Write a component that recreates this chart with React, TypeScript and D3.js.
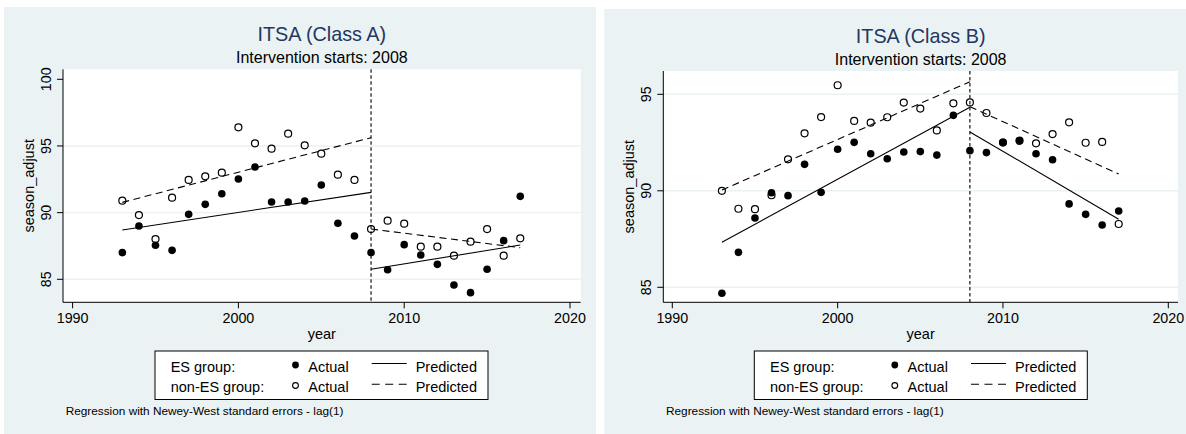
import React from "react";
import * as d3 from "d3";

// ---------- data ----------
const years = [1993, 1994, 1995, 1996, 1997, 1998, 1999, 2000, 2001, 2002, 2003, 2004, 2005, 2006, 2007, 2008, 2009, 2010, 2011, 2012, 2013, 2014, 2015, 2016, 2017];

const classAEsActual = [87.0, 89.0, 87.55, 87.17, 89.87, 90.62, 91.42, 92.52, 93.42, 90.8, 90.8, 90.87, 92.07, 89.2, 88.25, 87.0, 85.72, 87.6, 86.82, 86.12, 84.57, 84.0, 85.75, 87.9, 91.22];
const classANonEsActual = [90.9, 89.82, 88.02, 91.12, 92.45, 92.72, 93.0, 96.4, 95.2, 94.8, 95.92, 95.05, 94.42, 92.85, 92.45, 88.77, 89.4, 89.17, 87.45, 87.45, 86.77, 87.82, 88.77, 86.77, 88.07];

const classBEsActual = [84.69, 86.81, 88.59, 89.9, 89.75, 91.37, 89.92, 92.15, 92.51, 91.92, 91.66, 92.01, 92.03, 91.85, 93.91, 92.08, 91.98, 92.51, 92.58, 91.92, 91.61, 89.32, 88.78, 88.23, 88.95];
const classBNonEsActual = [90.0, 89.07, 89.05, 89.77, 91.63, 92.98, 93.82, 95.47, 93.62, 93.53, 93.81, 94.57, 94.26, 93.13, 94.53, 94.58, 94.03, 92.5, 92.6, 92.46, 92.94, 93.55, 92.49, 92.53, 88.28];

const preYears = [1993, 2008];
const postYears = [2008, 2017];
const classAEsPredPre = [88.7, 91.52];
const classAEsPredPost = [85.75, 87.57];
const classANonEsPredPre = [90.77, 95.62];
const classANonEsPredPost = [88.77, 87.37];
const classBEsPredPre = [87.33, 94.33];
const classBEsPredPost = [93.05, 88.53];
const classBNonEsPredPre = [90.04, 95.65];
const classBNonEsPredPost = [94.36, 90.87];

const xTicks = [1990, 2000, 2010, 2020];
const classAYTicks = [85, 90, 95, 100];
const classAGridTicks = [85, 90, 95];
const classBYTicks = [85, 90, 95];
const classBGridTicks = [85, 90, 95];
const interventionYear = 2008;

const FONT = "'Liberation Sans', Arial, Helvetica, sans-serif";
const BG = "#eaf2f3";
const TITLE_COLOR = "#23375f";

type PanelCfg = {
  title: string;
  bg: { x: number; y: number; w: number; h: number };
  plot: { l: number; t: number; r: number; b: number };
  xRange: [number, number];
  yDomain: [number, number];
  yRange: [number, number];
  yTicks: number[];
  gridTicks: number[];
  titleY: number;
  subY: number;
  legendX: number;
  noteX: number;
  es: number[];
  nonEs: number[];
  esPre: number[];
  esPost: number[];
  nonEsPre: number[];
  nonEsPost: number[];
};

function Panel({ c }: { c: PanelCfg }) {
  const x = d3.scaleLinear().domain([1990, 2020]).range(c.xRange);
  const y = d3.scaleLinear().domain(c.yDomain).range(c.yRange);
  const line = d3
    .line<[number, number]>()
    .x((d) => x(d[0]))
    .y((d) => y(d[1]));
  const cx = (c.plot.l + c.plot.r) / 2;
  const cy = (c.plot.t + c.plot.b) / 2;
  const pair = (ys: number[], vs: number[]) => ys.map((yr, i) => [yr, vs[i]] as [number, number]);
  const lg = { x: c.legendX, y: 351, w: 333, h: 48.5 };
  return (
    <g>
      <rect x={c.bg.x} y={c.bg.y} width={c.bg.w} height={c.bg.h} fill={BG} />
      <rect x={c.plot.l} y={c.plot.t} width={c.plot.r - c.plot.l} height={c.plot.b - c.plot.t} fill="#ffffff" />
      {c.gridTicks.map((t) => (
        <line key={"g" + t} x1={c.plot.l} x2={c.plot.r} y1={y(t)} y2={y(t)} stroke={BG} strokeWidth={1.4} />
      ))}
      {/* axes */}
      <line x1={c.plot.l} x2={c.plot.l} y1={c.plot.t} y2={c.plot.b} stroke="#000" strokeWidth={1} />
      <line x1={c.plot.l} x2={c.plot.r} y1={c.plot.b} y2={c.plot.b} stroke="#000" strokeWidth={1} />
      {c.yTicks.map((t) => (
        <g key={"y" + t}>
          <line x1={c.plot.l - 6} x2={c.plot.l} y1={y(t)} y2={y(t)} stroke="#000" strokeWidth={1} />
          <text
            transform={`translate(${c.plot.l - 12.5},${y(t)}) rotate(-90)`}
            textAnchor="middle"
            fontFamily={FONT}
            fontSize={14.3}
            fill="#000"
          >
            {t}
          </text>
        </g>
      ))}
      {xTicks.map((t) => (
        <g key={"x" + t}>
          <line x1={x(t)} x2={x(t)} y1={c.plot.b} y2={c.plot.b + 6} stroke="#000" strokeWidth={1} />
          <text x={x(t)} y={323} textAnchor="middle" fontFamily={FONT} fontSize={14.3} fill="#000">
            {t}
          </text>
        </g>
      ))}
      <text
        transform={`translate(${c.plot.l - 29.5},${cy}) rotate(-90)`}
        textAnchor="middle"
        fontFamily={FONT}
        fontSize={14.5}
        fill="#000"
      >
        season_adjust
      </text>
      <text x={cx} y={338.7} textAnchor="middle" fontFamily={FONT} fontSize={14.5} fill="#000">
        year
      </text>
      {/* titles */}
      <text x={cx} y={c.titleY} textAnchor="middle" fontFamily={FONT} fontSize={19.8} fill={TITLE_COLOR}>
        {c.title}
      </text>
      <text x={cx} y={c.subY} textAnchor="middle" fontFamily={FONT} fontSize={16} fill="#000">
        Intervention starts: {interventionYear}
      </text>
      {/* intervention line */}
      <line
        x1={x(interventionYear)}
        x2={x(interventionYear)}
        y1={c.plot.t}
        y2={c.plot.b}
        stroke="#000"
        strokeWidth={1.1}
        strokeDasharray="3.5,2.5"
      />
      {/* predicted lines */}
      <path d={line(pair(preYears, c.esPre)) || ""} stroke="#000" strokeWidth={1.1} fill="none" />
      <path d={line(pair(postYears, c.esPost)) || ""} stroke="#000" strokeWidth={1.1} fill="none" />
      <path d={line(pair(preYears, c.nonEsPre)) || ""} stroke="#000" strokeWidth={1.1} fill="none" strokeDasharray="7,4.5" />
      <path d={line(pair(postYears, c.nonEsPost)) || ""} stroke="#000" strokeWidth={1.1} fill="none" strokeDasharray="7,4.5" />
      {/* markers */}
      {years.map((yr, i) => (
        <circle key={"h" + yr} cx={x(yr)} cy={y(c.nonEs[i])} r={3.5} fill="none" stroke="#000" strokeWidth={1.2} />
      ))}
      {years.map((yr, i) => (
        <circle key={"f" + yr} cx={x(yr)} cy={y(c.es[i])} r={3.8} fill="#000" />
      ))}
      {/* legend */}
      <rect x={lg.x} y={lg.y} width={lg.w} height={lg.h} fill="#fff" stroke="#000" strokeWidth={1} />
      <text x={lg.x + 15.7} y={371.5} fontFamily={FONT} fontSize={14.5} fill="#000">ES group:</text>
      <text x={lg.x + 15.7} y={391.5} fontFamily={FONT} fontSize={14.5} fill="#000">non-ES group:</text>
      <circle cx={lg.x + 140.5} cy={365} r={3.4} fill="#000" />
      <circle cx={lg.x + 140.5} cy={385.5} r={2.9} fill="none" stroke="#000" strokeWidth={1.1} />
      <text x={lg.x + 153.3} y={371.5} fontFamily={FONT} fontSize={14.5} fill="#000">Actual</text>
      <text x={lg.x + 153.3} y={391.5} fontFamily={FONT} fontSize={14.5} fill="#000">Actual</text>
      <line x1={lg.x + 216.7} x2={lg.x + 251.7} y1={363.5} y2={363.5} stroke="#000" strokeWidth={1.1} />
      <line x1={lg.x + 216.7} x2={lg.x + 251.7} y1={384.3} y2={384.3} stroke="#000" strokeWidth={1.1} strokeDasharray="8,5.5" />
      <text x={lg.x + 260.7} y={371.5} fontFamily={FONT} fontSize={14.5} fill="#000">Predicted</text>
      <text x={lg.x + 260.7} y={391.5} fontFamily={FONT} fontSize={14.5} fill="#000">Predicted</text>
      <text x={c.noteX} y={414.8} fontFamily={FONT} fontSize={11.8} fill="#000">
        Regression with Newey-West standard errors - lag(1)
      </text>
    </g>
  );
}

const panelA: PanelCfg = {
  title: "ITSA (Class A)",
  bg: { x: 4, y: 7, w: 592, h: 427 },
  plot: { l: 63, t: 69.3, r: 580.7, b: 302.3 },
  xRange: [72.6, 570],
  yDomain: [85, 100],
  yRange: [279.3, 79.3],
  yTicks: classAYTicks,
  gridTicks: classAGridTicks,
  titleY: 40.8,
  subY: 63.3,
  legendX: 155,
  noteX: 65.7,
  es: classAEsActual,
  nonEs: classANonEsActual,
  esPre: classAEsPredPre,
  esPost: classAEsPredPost,
  nonEsPre: classANonEsPredPre,
  nonEsPost: classANonEsPredPost,
};

const panelB: PanelCfg = {
  title: "ITSA (Class B)",
  bg: { x: 604.3, y: 9, w: 582, h: 425 },
  plot: { l: 663.3, t: 71, r: 1178, b: 302.3 },
  xRange: [672.3, 1168.3],
  yDomain: [85, 95],
  yRange: [287.3, 94.3],
  yTicks: classBYTicks,
  gridTicks: classBGridTicks,
  titleY: 42.5,
  subY: 64.7,
  legendX: 754.3,
  noteX: 666,
  es: classBEsActual,
  nonEs: classBNonEsActual,
  esPre: classBEsPredPre,
  esPost: classBEsPredPost,
  nonEsPre: classBNonEsPredPre,
  nonEsPost: classBNonEsPredPost,
};

export default function App() {
  return (
    <svg
      width={1186}
      height={434}
      viewBox="0 0 1186 434"
      style={{ position: "absolute", left: 0, top: 0, background: "#fff" }}
    >
      <Panel c={panelA} />
      <Panel c={panelB} />
    </svg>
  );
}
